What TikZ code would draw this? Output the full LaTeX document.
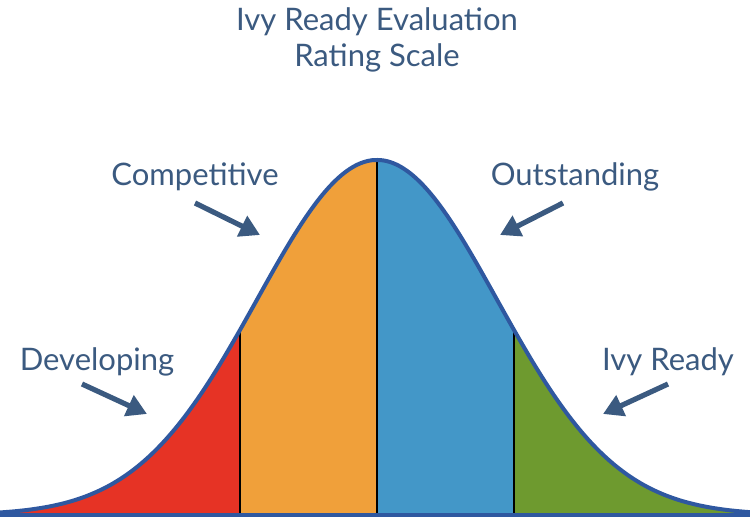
\documentclass[tikz,border=0pt]{standalone}
\usepackage{fontspec}
\setmainfont{Lato}
\usetikzlibrary{arrows.meta}
\definecolor{txtblue}{HTML}{3B5A80}
\definecolor{curveblue}{HTML}{2F58A0}
\definecolor{devred}{HTML}{E63325}
\definecolor{compor}{HTML}{F0A03A}
\definecolor{outblue}{HTML}{4397C8}
\definecolor{ivygreen}{HTML}{6E9A2F}
\tikzset{
  label/.style={text=txtblue,font=\fontsize{15.5}{18}\selectfont},
  pointer/.style={draw=txtblue,line width=2.6pt,-{Triangle[length=10pt,width=11pt]}},
  divider/.style={draw=black,line width=0.7pt},
  declare function={bell(\t)=515-355*exp(-0.5*((\t-377)/120)^2);}
}
\begin{document}
\begin{tikzpicture}[x=0.5pt,y=-0.5pt]
      \useasboundingbox (0,0) rectangle (750,518);
      % title
      \node[label,align=center] (title) at (377,40)
        {Ivy Ready Evaluation\\Rating Scale};
      % coloured bands under the curve
      \fill[devred] plot[domain=0:240,samples=60,smooth] (\x,{bell(\x)}) -- (240,515) -- (0,515) -- cycle;
      \fill[compor] plot[domain=240:377,samples=40,smooth] (\x,{bell(\x)}) -- (377,515) -- (240,515) -- cycle;
      \fill[outblue] plot[domain=377:514,samples=40,smooth] (\x,{bell(\x)}) -- (514,515) -- (377,515) -- cycle;
      \fill[ivygreen] plot[domain=514:750,samples=60,smooth] (\x,{bell(\x)}) -- (750,515) -- (514,515) -- cycle;
      \draw[divider] (240,{bell(240)}) -- (240,515);
      \draw[divider] (377,{bell(377)}) -- (377,515);
      \draw[divider] (514,{bell(514)}) -- (514,515);
      \draw[curveblue,line width=2pt] plot[domain=0:750,samples=150,smooth] (\x,{bell(\x)});
      \draw[curveblue,line width=2pt] (0,515) -- (750,515);
      % labels
      \node[label] (dev) at (97,362) {Developing};
      \node[label] (comp) at (195,177) {Competitive};
      \node[label] (out) at (575,177) {Outstanding};
      \node[label] (ivy) at (668,362) {Ivy Ready};
      \coordinate (devtail) at (82,384);
      \coordinate (devtip) at (147,414);
      \coordinate (comptail) at (195,203);
      \coordinate (comptip) at (260,235);
      \coordinate (outtail) at (563,203);
      \coordinate (outtip) at (500,235);
      \coordinate (ivytail) at (668,384);
      \coordinate (ivytip) at (603,414);
      \draw[pointer] (devtail) -- (devtip);
      \draw[pointer] (comptail) -- (comptip);
      \draw[pointer] (outtail) -- (outtip);
      \draw[pointer] (ivytail) -- (ivytip);
    \end{tikzpicture}
\end{document}
